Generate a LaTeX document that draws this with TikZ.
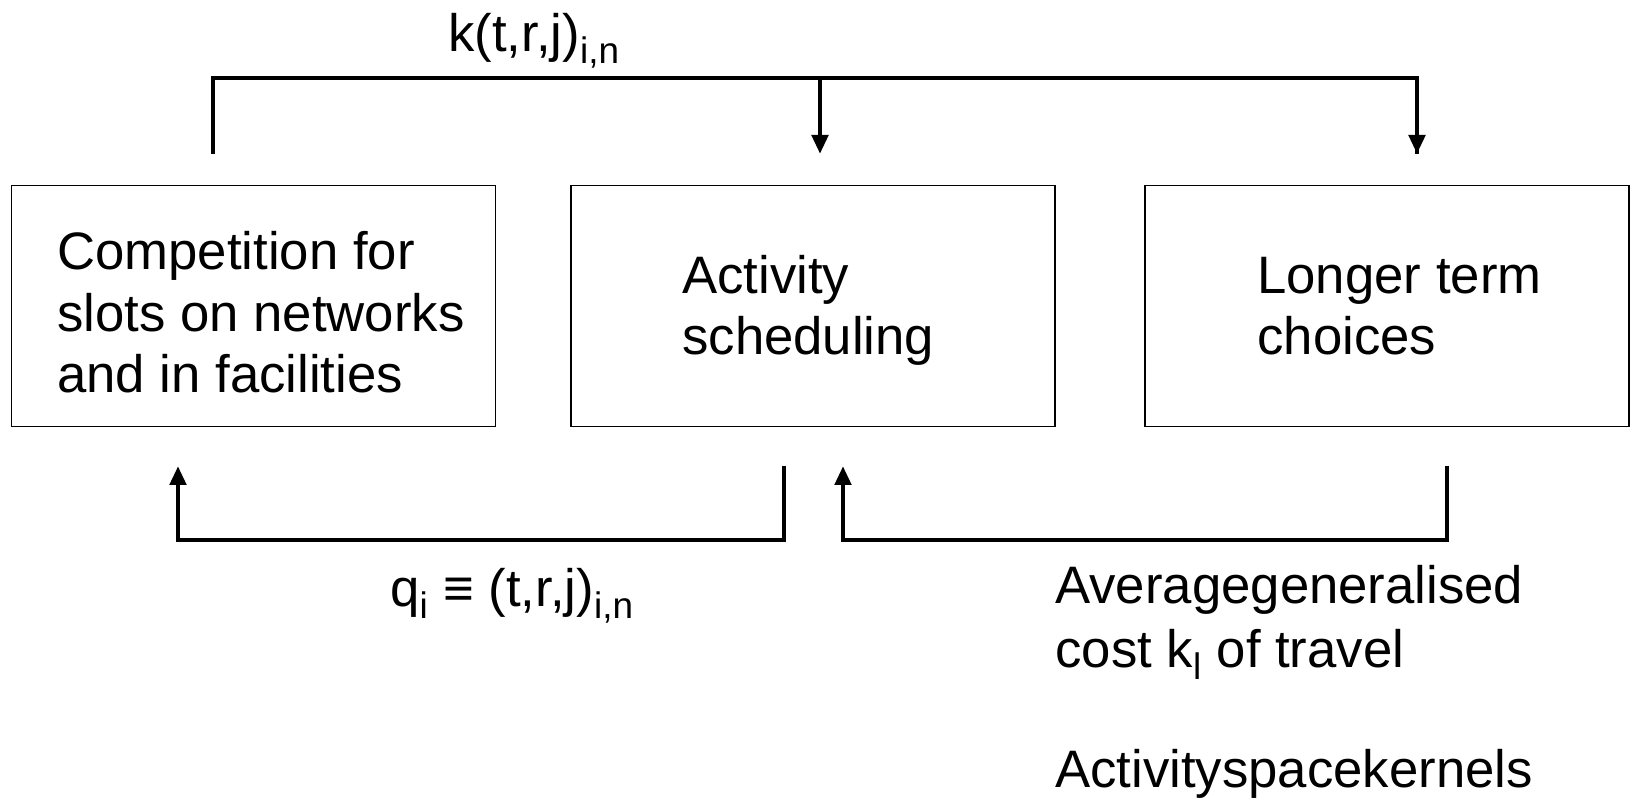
\documentclass[tikz,border=0pt]{standalone}
\usepackage{fontspec}
\setmainfont{Liberation Sans}
\usetikzlibrary{arrows.meta}
\tikzset{
  box/.style={draw, line width=0.75pt, minimum width=9.68cm, minimum height=4.82cm, inner sep=0pt},
  boxtext/.style={anchor=base west, align=left, inner sep=0pt},
  link/.style={line width=2.8pt},
  tip/.style={-{Triangle[width=0.32cm,length=0.38cm]}}
}
\begin{document}
\begin{tikzpicture}[x=0.02cm,y=-0.02cm]
  \fontsize{30}{35.2}\selectfont
  \useasboundingbox (0,0) rectangle (1630,803);
  % The three boxes
  \node[box] (comp) at (253.5,306) {};
  \node[box] (sched) at (813,306) {};
  \node[box] (longer) at (1387,306) {};
  % Texts in the boxes
  \node[boxtext] (compText) at (57,393) {Competition for\\slots on networks\\and in facilities};
  \node[boxtext] (schedText) at (682,355) {Activity\\scheduling};
  \node[boxtext] (longerText) at (1257,355) {Longer term\\choices};
  % Ends of the connectors
  \coordinate (topL) at (213,154);
  \coordinate (topM) at (820,154);
  \coordinate (topR) at (1417,154);
  \coordinate (botA) at (178,466);
  \coordinate (botB) at (784,466);
  \coordinate (botC) at (843,466);
  \coordinate (botD) at (1447,466);
  % Top connector with two arrows
  \draw[link] (topL) |- (1417,78) -- (topR);
  \draw[link,tip] (topL |- 0,78) -| (topM);
  \draw[link,tip] (topM |- 0,78) -| (topR);
  % Bottom connectors
  \draw[link,tip] (botB) |- (0,540 -| botA) -- (botA);
  \draw[link,tip] (botD) |- (0,540 -| botC) -- (botC);
  % Labels
  \node[anchor=base west, inner sep=0pt] (kdemand) at (448,52) {k(t,r,j)\textsubscript{i,n}};
  \node[anchor=base west, inner sep=0pt] (qslot) at (390,607) {q\textsubscript{i} ≡ (t,r,j)\textsubscript{i,n}};
  \node[anchor=base west, inner sep=0pt, align=left, font=\fontsize{30}{36.3}\selectfont] (cost) at (1055,787)
    {Averagegeneralised\\cost k\textsubscript{l} of travel\\[31.7pt]Activityspacekernels};
\end{tikzpicture}
\end{document}
